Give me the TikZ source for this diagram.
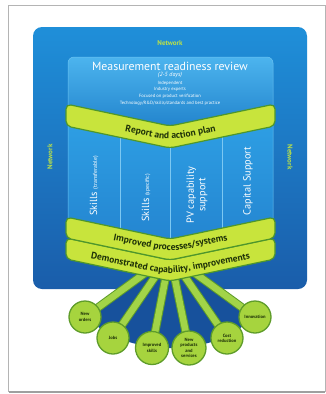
\documentclass[tikz,border=0pt]{standalone}
\usepackage{fontspec}
\setmainfont{PT Sans}
\setsansfont{PT Sans}
\usetikzlibrary{decorations.text}
\definecolor{cardedge}{HTML}{B4B4B4}
\definecolor{bluetop}{HTML}{1F8FD9}
\definecolor{bluebot}{HTML}{1A5DAA}
\definecolor{bluedark}{HTML}{17519C}
\definecolor{boxtop}{HTML}{4CB4EE}
\definecolor{boxbot}{HTML}{1C7DC8}
\definecolor{boxedge}{HTML}{6CC4F2}
\definecolor{coltop}{HTML}{2E9FE4}
\definecolor{colbot}{HTML}{2383CF}
\definecolor{divcol}{HTML}{7CC8F2}
\definecolor{bandfill}{HTML}{C8E43C}
\definecolor{bandedge}{HTML}{4E962C}
\definecolor{bandtext}{HTML}{1E3208}
\definecolor{netgreen}{HTML}{B9E04A}
\definecolor{circfill}{HTML}{A6D43E}
\definecolor{circedge}{HTML}{5E9C2A}
\definecolor{rayfill}{HTML}{A2D448}
\newcommand\bandfont{\bfseries\fontsize{9.5}{10}\selectfont\color{bandtext}}
\begin{document}
\begin{tikzpicture}[x=1pt,y=-1pt,
  band/.style={fill=bandfill, draw=bandedge, line width=1.2pt, rounded corners=5pt},
  bandtxt/.style={decorate, decoration={text along path, text align=center, text={#1}}, rounded corners=14pt},
  net/.style={text=netgreen, font=\bfseries\fontsize{7}{8}\selectfont, inner sep=0pt},
  wtxt/.style={text=white, inner sep=0pt, align=center},
  coltxt/.style={text=white, inner sep=0pt, align=center, rotate=90, font=\fontsize{10.3}{11.3}\selectfont},
  divider/.style={draw=divcol, line width=0.6pt},
  ray/.style={draw=circedge, line width=1pt, double=rayfill, double distance=6.5pt},
  circ/.style={circle, minimum size=32pt, inner sep=0pt, fill=circfill, draw=circedge, line width=1.3pt,
    text=bandtext, align=center, font=\bfseries\fontsize{4.6}{5.2}\selectfont}]
\useasboundingbox (0,0) rectangle (325,394);
\fill[white] (0,0) rectangle (325,394);
% card
\draw[cardedge, fill=white, line width=0.8pt] (8.5,5) rectangle (325,391);
\draw[gray!75, line width=2pt] (8.5,392) -- (325,392);
% blue background
\path[rounded corners=9pt, top color=bluetop, bottom color=bluebot] (33,27) rectangle (307,289);
% points
\coordinate (hub) at (170,255);
\coordinate (pNO) at (85,317);
\coordinate (pJ) at (113,338);
\coordinate (pIS) at (152,348);
\coordinate (pNP) at (189,348);
\coordinate (pCR) at (227,338);
\coordinate (pIN) at (255,317);
% fan
\fill[bluedark] (hub) -- (pNO) -- (pJ) -- (pIS) -- (pNP) -- (pCR) -- (pIN) -- cycle;
% network labels
\node[net] (nettop) at (170,43) {Network};
\node[net, rotate=90] (netleft) at (50,157) {Network};
\node[net, rotate=-90] (netright) at (290,157) {Network};
% measurement box
\path[rounded corners=6pt, top color=boxtop, bottom color=boxbot, draw=boxedge, line width=0.5pt]
  (68,57) -- (273,57) -- (273,115) -- (170,137) -- (68,115) -- cycle;
% columns box
\path[rounded corners=4pt, top color=coltop, bottom color=colbot, draw=boxedge, line width=0.5pt]
  (68,120) -- (170,142) -- (273,120) -- (273,228) -- (170,250) -- (68,228) -- cycle;
\draw[divider] (120,132) -- (120,234);
\draw[divider] (170,144) -- (170,245);
\draw[divider] (222,132) -- (222,234);
% measurement texts
\node[wtxt, font=\fontsize{11.8}{12}\selectfont] (mrr) at (170,66) {Measurement readiness review};
\node[wtxt, font=\itshape\fontsize{6}{7}\selectfont] (days) at (170,75.5) {(2-5 days)};
\node[wtxt, font=\fontsize{4.6}{5}\selectfont] (l1) at (170,83) {Independent};
\node[wtxt, font=\fontsize{4.6}{5}\selectfont] (l2) at (170,89.5) {Industry experts};
\node[wtxt, font=\fontsize{4.6}{5}\selectfont] (l3) at (170,96.5) {Focused on product verification};
\node[wtxt, font=\fontsize{4.6}{5}\selectfont] (l4) at (170,103) {Technology/R\&D/skills/standards and best practice};
% column texts
\node[coltxt] (c1) at (94,186) {Skills {\fontsize{5.8}{6}\selectfont(transferable)}};
\node[coltxt] (c2) at (146,198) {Skills {\fontsize{5.8}{6}\selectfont(specific)}};
\node[coltxt] (c3) at (197,195) {PV capability\\support};
\node[coltxt] (c4) at (248,181) {Capital Support};
% rays
\draw[ray] (hub) -- (pNO);
\draw[ray] (hub) -- (pJ);
\draw[ray] (hub) -- (pIS);
\draw[ray] (hub) -- (pNP);
\draw[ray] (hub) -- (pCR);
\draw[ray] (hub) -- (pIN);
% bands
\path[band] (66,104) -- (170,126) -- (275,104) -- (275,126) -- (170,148) -- (66,126) -- cycle;
\path[band] (66,238) -- (170,260) -- (275,238) -- (275,259) -- (170,281) -- (66,259) -- cycle;
\path[band] (66,217) -- (170,239) -- (275,217) -- (275,238) -- (170,260) -- (66,238) -- cycle;
\path[bandtxt={|\bandfont|Report and action plan}] (60,118.3) -- (170,140.3) -- (281,118.3);
\path[bandtxt={|\bandfont|Improved processes/systems}] (60,229.8) -- (170,251.8) -- (281,229.8);
\path[bandtxt={|\bandfont|Demonstrated capability, improvements}] (60,252.6) -- (170,274.6) -- (281,252.6);
% circles
\node[circ] (no) at (pNO) {New\\orders};
\node[circ] (jobs) at (pJ) {Jobs};
\node[circ, minimum size=33pt] (is) at (pIS) {Improved\\skills};
\node[circ, minimum size=34pt] (np) at (pNP) {New\\products\\and\\services};
\node[circ] (cr) at (pCR) {Cost\\reduction};
\node[circ] (inn) at (pIN) {Innovation};
\end{tikzpicture}
\end{document}
